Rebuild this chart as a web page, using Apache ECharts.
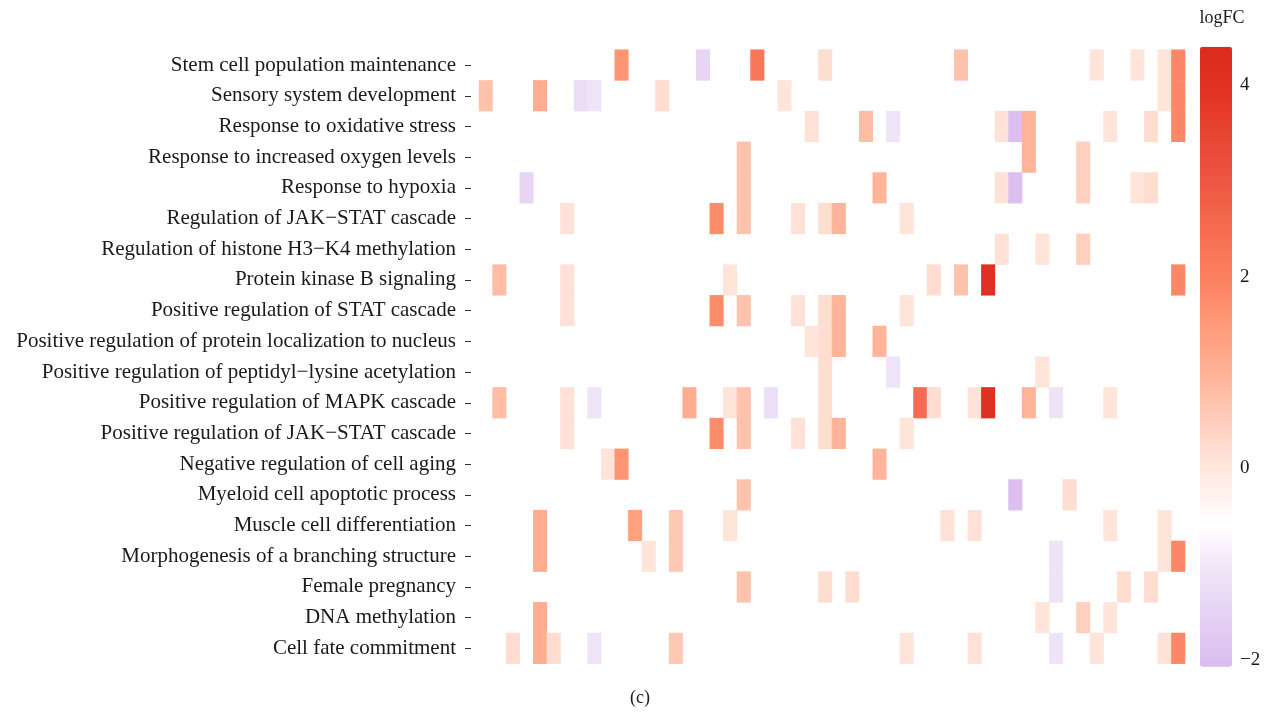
<!DOCTYPE html>
<html>
<head>
<meta charset="utf-8">
<script src="https://cdn.jsdelivr.net/npm/echarts@6/dist/echarts.min.js"></script>
<style>
  html, body { margin: 0; padding: 0; background: #ffffff; }
  #chart { width: 1270px; height: 712px; }
</style>
</head>
<body>
<div id="chart"></div>
<script>
// GO terms, listed top to bottom
const terms = [
  'Stem cell population maintenance',
  'Sensory system development',
  'Response to oxidative stress',
  'Response to increased oxygen levels',
  'Response to hypoxia',
  'Regulation of JAK\u2212STAT cascade',
  'Regulation of histone H3\u2212K4 methylation',
  'Protein kinase B signaling',
  'Positive regulation of STAT cascade',
  'Positive regulation of protein localization to nucleus',
  'Positive regulation of peptidyl\u2212lysine acetylation',
  'Positive regulation of MAPK cascade',
  'Positive regulation of JAK\u2212STAT cascade',
  'Negative regulation of cell aging',
  'Myeloid cell apoptotic process',
  'Muscle cell differentiation',
  'Morphogenesis of a branching structure',
  'Female pregnancy',
  'DNA methylation',
  'Cell fate commitment'
];

// number of gene columns
const geneCount = 52;

// logFC of each gene annotated to a term: [gene column, logFC], one list per term
const termGenes = [
  [[10, 1.6], [16, -1.45], [20, 2.25], [25, 0.2], [35, 0.7], [45, 0.05], [48, 0.05], [50, 0.05], [51, 1.85]],
  [[0, 0.7], [4, 1.1], [7, -1.25], [8, -1.1], [13, 0.2], [22, 0.05], [50, 0.05], [51, 1.85]],
  [[24, 0.1], [28, 0.8], [30, -1.1], [38, 0.1], [39, -2.0], [40, 1.0], [46, 0.05], [49, 0.2], [51, 1.85]],
  [[19, 0.7], [40, 1.0], [44, 0.45]],
  [[3, -1.45], [19, 0.7], [29, 0.95], [38, 0.1], [39, -2.0], [44, 0.45], [48, 0.05], [49, 0.2]],
  [[6, 0.1], [17, 1.75], [19, 0.7], [23, 0.1], [25, 0.2], [26, 1.0], [31, 0.05]],
  [[38, 0.1], [41, 0.05], [44, 0.45]],
  [[1, 0.8], [6, 0.1], [18, 0.05], [33, 0.2], [35, 0.7], [37, 4.1], [51, 1.85]],
  [[6, 0.1], [17, 1.75], [19, 0.7], [23, 0.1], [25, 0.2], [26, 1.0], [31, 0.05]],
  [[24, 0.05], [25, 0.2], [26, 1.0], [29, 0.95]],
  [[25, 0.2], [30, -1.1], [41, 0.05]],
  [[1, 0.8], [6, 0.1], [8, -1.1], [15, 1.1], [18, 0.05], [19, 0.7], [21, -1.2], [25, 0.2], [32, 2.5], [33, 0.2], [36, 0.1], [37, 4.1], [40, 1.0], [42, -1.1], [46, 0.05]],
  [[6, 0.1], [17, 1.75], [19, 0.7], [23, 0.1], [25, 0.2], [26, 1.0], [31, 0.05]],
  [[9, 0.05], [10, 1.6], [29, 0.95]],
  [[19, 0.7], [39, -2.0], [43, 0.2]],
  [[4, 1.1], [11, 1.35], [14, 0.6], [18, 0.05], [34, 0.1], [36, 0.1], [46, 0.05], [50, 0.05]],
  [[4, 1.1], [12, 0.05], [14, 0.6], [42, -1.1], [50, 0.05], [51, 1.85]],
  [[19, 0.7], [25, 0.2], [27, 0.2], [42, -1.1], [47, 0.2], [49, 0.2]],
  [[4, 1.1], [41, 0.05], [44, 0.45], [46, 0.05]],
  [[2, 0.2], [4, 1.1], [5, 0.2], [8, -1.1], [14, 0.6], [31, 0.05], [36, 0.1], [42, -1.1], [45, 0.05], [50, 0.1], [51, 1.85]]
];

// colour bar range and tick labels
const logFCMin = -2.07;
const logFCMax = 4.40;
const colorTicks = [-2, 0, 2, 4];
const paletteStops = [
  '#dabcee', '#e5d0f3', '#f0e4f8', '#ffffff', '#ffeae3', '#ffd2c2', '#ffb79d',
  '#ff9d7d', '#fc8463', '#f76f55', '#ef5a45', '#e84736', '#e23427', '#dc2a1d'
];

const geneSlots = Array.from({ length: geneCount }, (_, i) => 'g' + (i + 1));
const cells = [];
termGenes.forEach((genes, row) => {
  genes.forEach(([col, v]) => cells.push([col, row, v]));
});

const serif = '"Liberation Serif", "DejaVu Serif", serif';
const fmtMinus = v => (v < 0 ? '\u2212' + Math.abs(v) : String(v));

const chart = echarts.init(document.getElementById('chart'), null, { renderer: 'canvas' });
chart.setOption({
  backgroundColor: '#ffffff',
  animation: false,
  title: [
    {
      text: 'logFC', left: 1217, top: 4, textAlign: 'center',
      textStyle: { fontFamily: serif, fontSize: 18, fontWeight: 'normal', color: '#1a1a1a' }
    },
    {
      text: '(c)', left: 635, top: 684, textAlign: 'center',
      textStyle: { fontFamily: serif, fontSize: 18, fontWeight: 'normal', color: '#1a1a1a' }
    }
  ],
  grid: [
    { left: 479, top: 49.7, width: 706, height: 614, containLabel: false },
    { left: 1200, top: 46.7, width: 32, height: 620, containLabel: false }
  ],
  xAxis: [
    { type: 'category', gridIndex: 0, data: geneSlots, show: false },
    { type: 'value', gridIndex: 1, min: 0, max: 1, show: false }
  ],
  yAxis: [
    {
      type: 'category', gridIndex: 0, data: terms, inverse: true, offset: 8,
      axisLine: { show: false },
      axisTick: { show: true, alignWithLabel: true, length: 6, lineStyle: { color: '#333333', width: 1 } },
      axisLabel: { fontFamily: serif, fontSize: 21, color: '#1a1a1a', margin: 15, padding: [7, 0, 0, 0] },
      splitLine: { show: false }
    },
    {
      type: 'value', gridIndex: 1, min: logFCMin, max: logFCMax, position: 'right',
      axisLine: { show: false },
      axisTick: { show: true, inside: true, length: 7, customValues: colorTicks, lineStyle: { color: '#ffffff', width: 1.2 } },
      axisLabel: { show: true, customValues: colorTicks, formatter: fmtMinus, margin: 8, fontFamily: serif, fontSize: 19, color: '#1a1a1a', padding: [3, 0, 0, 0] },
      splitLine: { show: false }
    },
    {
      type: 'value', gridIndex: 1, min: logFCMin, max: logFCMax, position: 'left',
      axisLine: { show: false },
      axisTick: { show: true, inside: true, length: 7, customValues: colorTicks, lineStyle: { color: '#ffffff', width: 1.2 } },
      axisLabel: { show: false },
      splitLine: { show: false }
    }
  ],
  visualMap: {
    type: 'continuous',
    seriesIndex: 0,
    min: logFCMin,
    max: logFCMax,
    calculable: false,
    realtime: false,
    left: 1200,
    top: 46.7,
    padding: 0,
    itemWidth: 32,
    itemHeight: 620,
    text: null,
    inRange: { color: paletteStops },
    z: 1
  },
  series: [
    {
      type: 'heatmap',
      xAxisIndex: 0,
      yAxisIndex: 0,
      data: cells,
      itemStyle: { borderWidth: 0 },
      emphasis: { disabled: true }
    },
    {
      // empty series keeps the colour bar axes active
      type: 'line', xAxisIndex: 1, yAxisIndex: 1, data: [], silent: true
    }
  ]
});
</script>
</body>
</html>
